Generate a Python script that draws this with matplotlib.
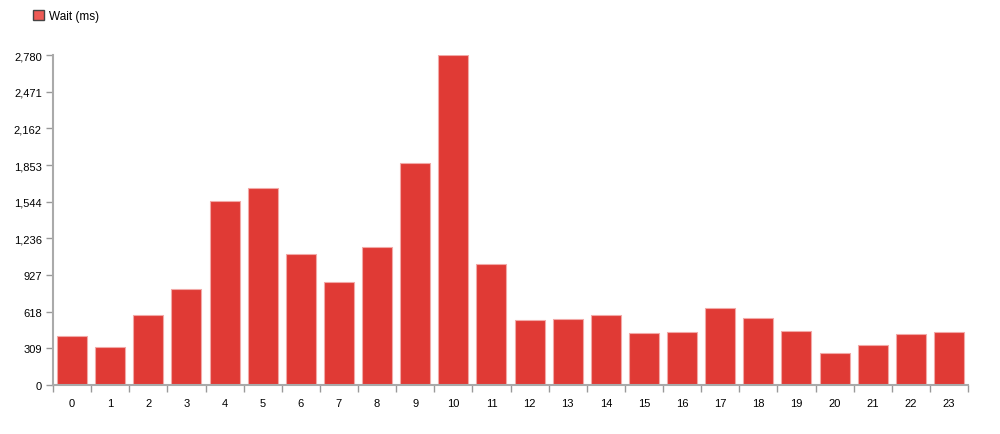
import matplotlib.pyplot as plt
from matplotlib.patches import Patch

plt.rcParams['font.family'] = ['Liberation Sans', 'DejaVu Sans']

hours = list(range(24))
wait_ms = [410, 320, 589, 806, 1550, 1662, 1103, 867, 1159, 1870, 2780, 1016,
           545, 556, 587, 435, 449, 646, 564, 452, 267, 337, 432, 444]
yticks = [0, 309, 618, 927, 1236, 1544, 1853, 2162, 2471, 2780]

fig = plt.figure(figsize=(10, 4.35), dpi=100)
ax = fig.add_axes([0.053, 0.1126, 0.915, 0.7586])

ax.bar(hours, wait_ms, width=0.79, color='#e03a35', edgecolor='#f2a9a7', linewidth=0.8)

ax.set_xlim(-0.5, 23.5)
ax.set_ylim(0, 2780)
ax.set_yticks(yticks)
ax.set_yticklabels([f'{v:,}' for v in yticks])

# ticks sit on the band edges, labels in the middle
ax.set_xticks([h - 0.5 for h in hours] + [23.5])
ax.set_xticklabels([])
ax.set_xticks(hours, minor=True)
ax.set_xticklabels([str(h) for h in hours], minor=True)
ax.tick_params(axis='x', which='minor', length=0, pad=9, labelsize=8)
ax.tick_params(axis='x', which='major', length=5, width=1, color='#999999')
ax.tick_params(axis='y', length=5, width=1, color='#999999', labelsize=8, pad=3)

for s in ['top', 'right']:
    ax.spines[s].set_visible(False)
for s in ['left', 'bottom']:
    ax.spines[s].set_color('#aaaaaa')
    ax.spines[s].set_linewidth(1.5)

handle = Patch(facecolor='#ee5a55', edgecolor='#444444', linewidth=1)
fig.legend([handle], ['Wait (ms)'], loc='upper left', bbox_to_anchor=(0.022, 1.0),
           frameon=False, fontsize=8.5, handlelength=1.0, handleheight=1.0,
           handletextpad=0.4)

fig.savefig('out.png', dpi=100)
